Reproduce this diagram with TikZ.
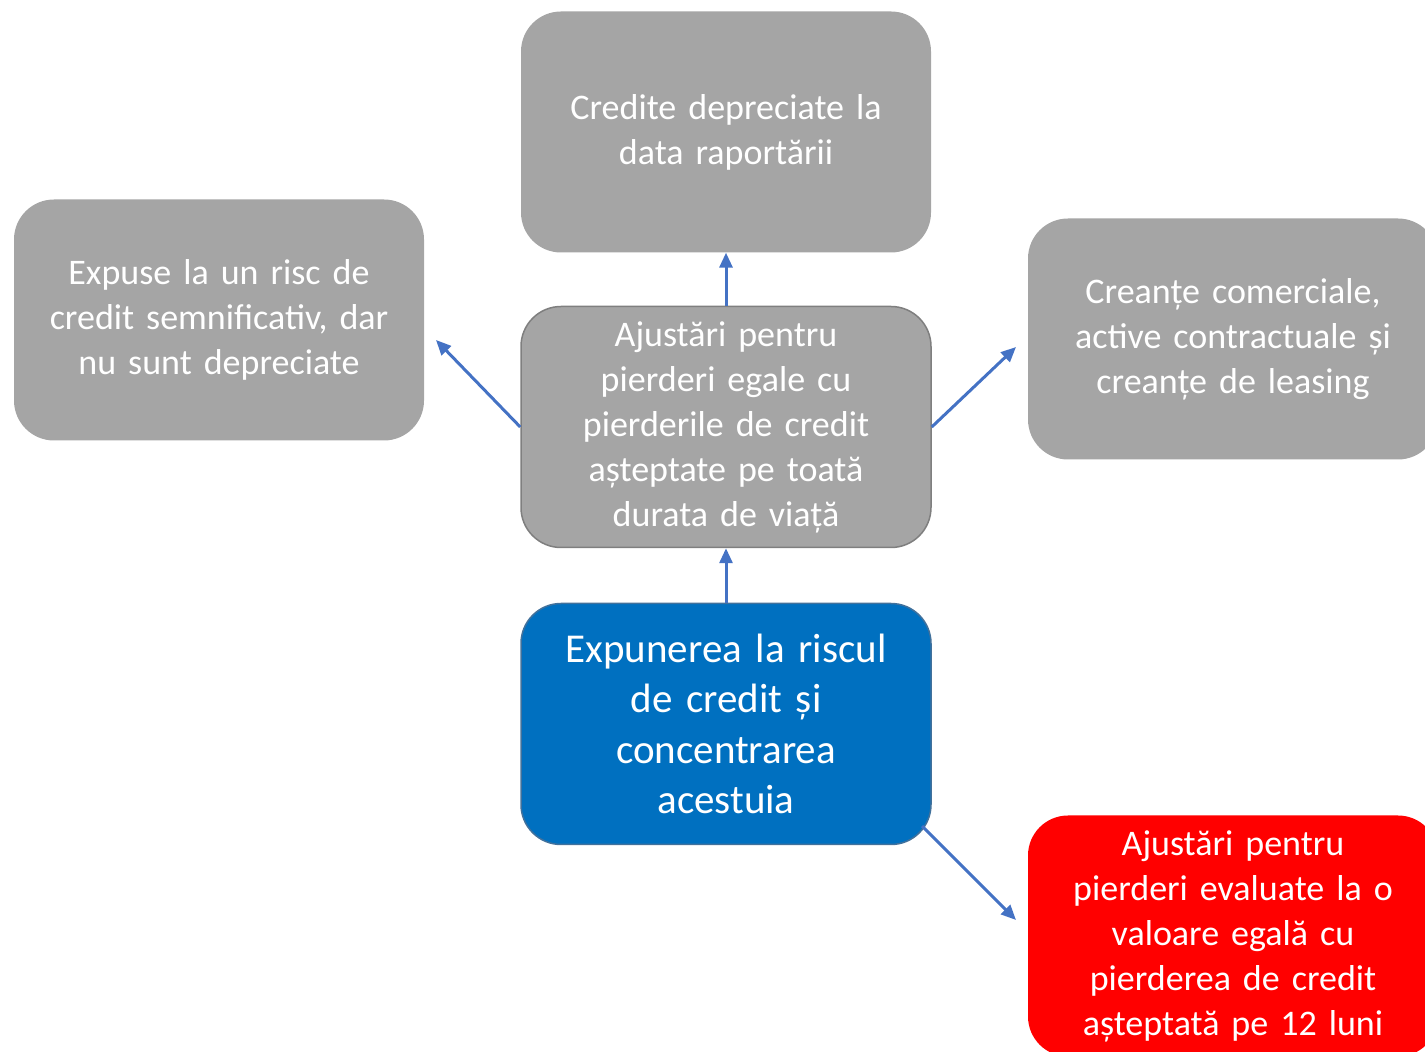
\documentclass[tikz,border=0pt]{standalone}
\usepackage{fontspec}
\setmainfont{Carlito}
\usetikzlibrary{arrows.meta,positioning}
\definecolor{boxgray}{HTML}{A5A5A5}
\definecolor{boxborder}{HTML}{7F7F7F}
\definecolor{boxblue}{HTML}{0070C0}
\definecolor{blueborder}{HTML}{41719C}
\definecolor{arrowblue}{HTML}{4472C4}
\definecolor{boxred}{HTML}{FF0000}
\begin{document}
\begin{tikzpicture}[x=1pt,y=1pt,
  card/.style={rounded corners=40pt, minimum width=410pt, minimum height=241pt,
    text width=400pt, align=center, text=white, inner sep=0pt,
    font=\fontsize{36}{45}\selectfont},
  graycard/.style={card, fill=boxgray},
  link/.style={draw=arrowblue, line width=3pt, -{Triangle[length=15pt,width=13pt]}}
]
\useasboundingbox (0,0) rectangle (1425,1052);
\clip (0,0) rectangle (1425,1052);
\node[graycard] (top) at (726,920) {Credite depreciate la\\data raportării};
\node[graycard] (left) at (219,732) {Expuse la un risc de\\credit semnificativ, dar\\nu sunt depreciate};
\node[graycard, draw=boxborder, line width=1.5pt] (mid) at (726,625) {Ajustări pentru\\pierderi egale cu\\pierderile de credit\\așteptate pe toată\\durata de viață};
\node[graycard] (right) at (1233,713) {Creanțe comerciale,\\active contractuale și\\creanțe de leasing};
\node[card, fill=boxblue, draw=blueborder, line width=1.5pt, font=\fontsize{41}{50.5}\selectfont] (blue) at (726,328) {Expunerea la riscul\\de credit și\\concentrarea\\acestuia};
\node[card, fill=boxred] (red) at (1233,116) {Ajustări pentru\\pierderi evaluate la o\\valoare egală cu\\pierderea de credit\\așteptată pe 12 luni};
\coordinate (lefttip) at (436,712);
\coordinate (righttip) at (1016,705);
\coordinate (redtip) at (1016,132);
\coordinate (bluecorner) at (922,226);
\draw[link] (mid.north) -- (top.south);
\draw[link] (blue.north) -- (mid.south);
\draw[link] (mid.west) -- (lefttip);
\draw[link] (mid.east) -- (righttip);
\draw[link] (bluecorner) -- (redtip);
\end{tikzpicture}
\end{document}
